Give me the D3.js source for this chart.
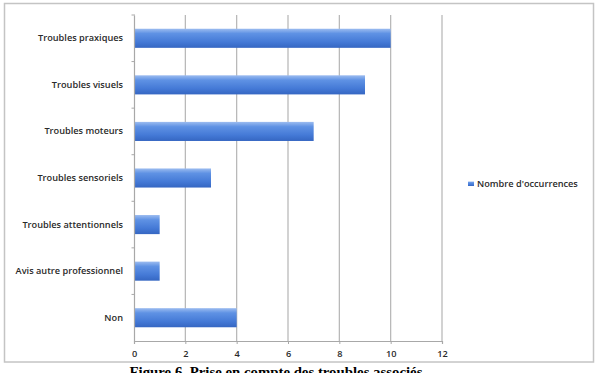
<!DOCTYPE html>
<html lang="fr">
<head>
    <meta charset="utf-8">
    <title>Prise en compte des troubles associés</title>
    <script src="https://d3js.org/d3.v7.min.js"></script>
    <style>
        body { margin: 0; background: #fff; }
        .lbl { font-family: 'Open Sans', sans-serif; font-size: 9.2px; font-weight: 600; fill: #2a2a2a; }
        .caption { font-family: 'Liberation Serif', 'Times New Roman', serif; font-size: 14.8px; font-weight: bold; fill: #000; }
    </style>
</head>
<body>
<svg id="chart" width="595" height="373"></svg>
<script>
// data
const categories = ["Troubles praxiques", "Troubles visuels", "Troubles moteurs", "Troubles sensoriels",
                    "Troubles attentionnels", "Avis autre professionnel", "Non"];
const occurrences = [10, 9, 7, 3, 1, 1, 4];
const xTicks = [0, 2, 4, 6, 8, 10, 12];
const seriesName = "Nombre d'occurrences";
const captionText = "Figure 6. Prise en compte des troubles associés";

const svg = d3.select("#chart");

// outer frame
svg.append("rect")
    .attr("x", 4.5).attr("y", 3.5)
    .attr("width", 589).attr("height", 358.5)
    .attr("fill", "#fff")
    .attr("stroke", "#c4c4c4")
    .attr("stroke-width", 1.5);

const defs = svg.append("defs");
const grad = defs.append("linearGradient")
    .attr("id", "barGrad")
    .attr("x1", 0).attr("y1", 0).attr("x2", 0).attr("y2", 1);
grad.append("stop").attr("offset", "0%").attr("stop-color", "#9cbcf0");
grad.append("stop").attr("offset", "25%").attr("stop-color", "#5f92e4");
grad.append("stop").attr("offset", "70%").attr("stop-color", "#4479d6");
grad.append("stop").attr("offset", "100%").attr("stop-color", "#3566c2");

const plot = {left: 134, right: 442, top: 15, bottom: 341};

let xScale = d3.scaleLinear()
    .domain([0, 12])
    .range([plot.left, plot.right]);

let yScale = d3.scaleBand()
    .domain(categories)
    .range([plot.top, plot.bottom])
    .paddingInner(0.59)
    .paddingOuter(0.295);

// grid lines
svg.append("g")
    .selectAll("line")
    .data(xTicks.slice(1))
    .join("line")
    .attr("x1", d => xScale(d)).attr("x2", d => xScale(d))
    .attr("y1", plot.top).attr("y2", plot.bottom)
    .attr("stroke", "#b4b4b4")
    .attr("stroke-width", 1.2);

// bars
svg.append("g")
    .selectAll("rect")
    .data(categories)
    .join("rect")
    .attr("x", xScale(0))
    .attr("y", d => yScale(d))
    .attr("width", (d, i) => xScale(occurrences[i]) - xScale(0))
    .attr("height", yScale.bandwidth())
    .attr("fill", "url(#barGrad)");

// x axis
const xAxis = svg.append("g")
    .attr("transform", "translate(0," + plot.bottom + ")")
    .call(d3.axisBottom(xScale).tickValues(xTicks).tickSize(3).tickPadding(6));
xAxis.select(".domain").attr("stroke", "#a8a8a8").attr("stroke-width", 1.2);
xAxis.selectAll(".tick line").attr("stroke", "#a8a8a8");
xAxis.selectAll("text").attr("class", "lbl").attr("font-size", null).attr("font-family", null);

// y axis
const yAxis = svg.append("g")
    .attr("transform", "translate(" + plot.left + ",0)")
    .call(d3.axisLeft(yScale).tickSize(0).tickPadding(11));
yAxis.select(".domain").attr("stroke", "#a8a8a8").attr("stroke-width", 1.2);
yAxis.selectAll("text").attr("class", "lbl").attr("font-size", null).attr("font-family", null);

// small ticks between categories
const bounds = d3.range(categories.length + 1).map(i => plot.top + i * (plot.bottom - plot.top) / categories.length);
svg.append("g")
    .selectAll("line")
    .data(bounds.slice(0, -1))
    .join("line")
    .attr("x1", plot.left - 2.5).attr("x2", plot.left + 1)
    .attr("y1", d => d).attr("y2", d => d)
    .attr("stroke", "#a8a8a8");

// legend
const legend = svg.append("g").attr("transform", "translate(468,184)");
legend.append("rect")
    .attr("x", 0).attr("y", -2.5)
    .attr("width", 6).attr("height", 4.5)
    .attr("fill", "url(#barGrad)");
legend.append("text")
    .attr("class", "lbl")
    .attr("x", 9).attr("y", 0)
    .attr("dy", "0.35em")
    .text(seriesName);

// caption (cut off by the bottom edge, as in the original)
svg.append("text")
    .attr("class", "caption")
    .attr("x", 276).attr("y", 377)
    .attr("text-anchor", "middle")
    .text(captionText);
</script>
</body>
</html>
